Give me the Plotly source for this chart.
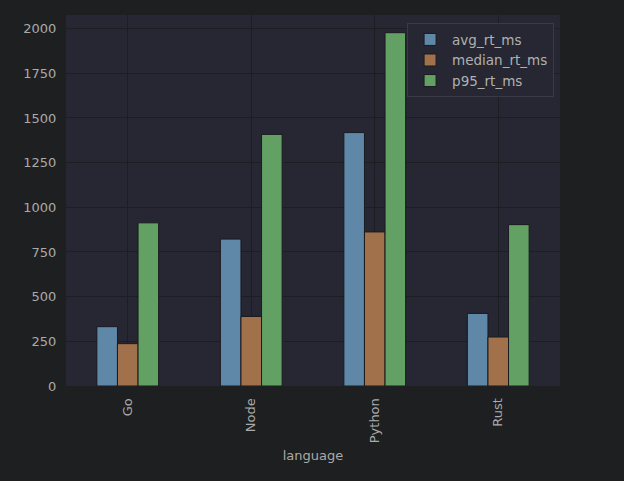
import plotly.graph_objects as go

languages = ["Go", "Node", "Python", "Rust"]
avg_rt_ms = [332, 822, 1418, 406]
median_rt_ms = [237, 389, 862, 274]
p95_rt_ms = [913, 1408, 1977, 903]

series = [
    ("avg_rt_ms", avg_rt_ms, "#5f87a8"),
    ("median_rt_ms", median_rt_ms, "#a0714a"),
    ("p95_rt_ms", p95_rt_ms, "#62a064"),
]

fig = go.Figure()
for name, vals, color in series:
    fig.add_trace(go.Bar(
        x=languages, y=vals, name=name,
        marker=dict(color=color, line=dict(color="#1a1b1f", width=1)),
    ))

PAPER = "#1e1f21"
font = dict(family="DejaVu Sans", size=13, color="#aaaaaa")
fig.update_layout(
    width=624, height=481,
    margin=dict(l=66, r=64, t=15, b=95),
    paper_bgcolor=PAPER,
    plot_bgcolor="#262732",
    font=font,
    barmode="group",
    bargap=0.5,
    bargroupgap=0,
    showlegend=True,
    legend=dict(
        x=0.988, xanchor="right", y=0.978, yanchor="top",
        bgcolor="#262732", bordercolor="#3a3b42", borderwidth=1,
        font=dict(family="DejaVu Sans", size=13.5, color="#b0b0b0"),
        tracegroupgap=2, itemwidth=34,
    ),
    xaxis=dict(
        title=dict(text="language", font=font, standoff=8),
        tickangle=-90,
        range=[-0.5, 3.5],
        showgrid=True, gridcolor="#1d1e23", gridwidth=1,
        zeroline=False, showline=False,
        ticks="outside", ticklen=6, tickcolor=PAPER, tickfont=font,
    ),
    yaxis=dict(
        range=[0, 2076],
        tickvals=[0, 250, 500, 750, 1000, 1250, 1500, 1750, 2000],
        showgrid=True, gridcolor="#1d1e23", gridwidth=1,
        zeroline=False, showline=False,
        ticks="outside", ticklen=6, tickcolor=PAPER, tickfont=font,
    ),
)

fig.write_html(
    "out.html",
    config={"displayModeBar": False},
    post_script="document.body.style.margin='0';document.body.style.background='%s';" % PAPER,
)
